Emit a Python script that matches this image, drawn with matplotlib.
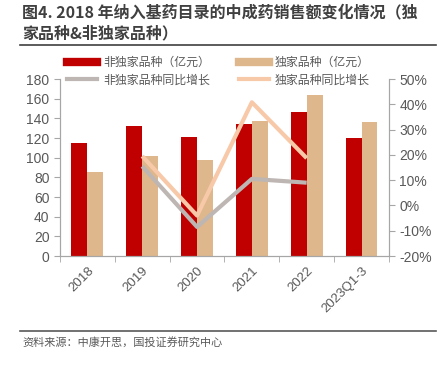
import numpy as np
import matplotlib
matplotlib.use('Agg')
import matplotlib.pyplot as plt
from matplotlib.lines import Line2D

plt.rcParams['font.family'] = ['Noto Sans CJK SC', 'DejaVu Sans']

years = ["2018", "2019", "2020", "2021", "2022", "2023Q1-3"]
non_excl = [115, 132.5, 121, 134, 146.5, 120]
excl = [85, 102, 97.7, 137.6, 163.5, 136]
non_excl_yoy = [np.nan, 15.5, -8.5, 10.5, 9.0, np.nan]
excl_yoy = [np.nan, 19.5, -4.0, 40.8, 18.7, np.nan]

red = "#C00000"
tan = "#DEB78C"
grey = "#BDB6B3"
peach = "#F8C9A8"
axc = "#A6A6A6"
txt = "#595959"

fig = plt.figure(figsize=(4.46, 3.68), dpi=100)
ax = fig.add_axes([0.1345, 0.3043, 0.7375, 0.481])
ax2 = ax.twinx()

x = np.arange(len(years))
w = 0.29
ax.bar(x - w / 2, non_excl, w, color=red, zorder=2)
ax.bar(x + w / 2, excl, w, color=tan, zorder=2)

ax2.plot(x, non_excl_yoy, color=grey, lw=3, solid_capstyle='butt')
ax2.plot(x, excl_yoy, color=peach, lw=3, solid_capstyle='butt')

ax.set_xlim(-0.5, len(years) - 0.5)
ax.set_ylim(0, 180)
ax.set_yticks(range(0, 181, 20))
ax2.set_ylim(-20, 50)
ax2.set_yticks(range(-20, 51, 10))
ax2.set_yticklabels([f"{v}%" for v in range(-20, 51, 10)])

ax.set_xticks(x)
ax.set_xticklabels(years, rotation=45, ha='right', rotation_mode='anchor')
ax.set_xticks(np.arange(-0.5, len(years), 1), minor=True)
ax.tick_params(axis='x', which='major', length=0, pad=6)
ax.tick_params(axis='x', which='minor', length=4, color=axc, direction='out')

for a in (ax, ax2):
    a.spines['top'].set_visible(False)
    for s in ('left', 'right', 'bottom'):
        a.spines[s].set_color(axc)
        a.spines[s].set_linewidth(0.8)
    a.tick_params(axis='y', colors=txt, labelsize=10, length=4, width=0.8)
    a.tick_params(axis='y', color=axc)
ax.tick_params(axis='x', labelcolor=txt, labelsize=9.5)
for t in ax.get_yticklabels() + ax2.get_yticklabels() + ax.get_xticklabels():
    t.set_family(['Liberation Sans', 'DejaVu Sans'])

handles = [
    Line2D([], [], color=red, lw=6),
    Line2D([], [], color=grey, lw=3),
    Line2D([], [], color=tan, lw=6),
    Line2D([], [], color=peach, lw=3),
]
labels = ["非独家品种（亿元）", "非独家品种同比增长", "独家品种（亿元）", "独家品种同比增长"]
fig.legend(handles, labels, ncol=2, loc='upper left', bbox_to_anchor=(0.135, 0.868),
           frameon=False, fontsize=8.6, labelcolor=txt, handlelength=2.5,
           columnspacing=2.4, labelspacing=0.4, handletextpad=0.5,
           borderaxespad=0.2)

fig.text(0.05, 0.965, "图4. 2018 年纳入基药目录的中成药销售额变化情况（独",
         fontsize=11.5, weight='bold', color="#404040", va='center')
fig.text(0.05, 0.91, "家品种&非独家品种）",
         fontsize=11.5, weight='bold', color="#404040", va='center')
fig.add_artist(Line2D([0.045, 0.978], [0.878, 0.878], color="#404040", lw=1.2))
fig.add_artist(Line2D([0.045, 0.978], [0.1, 0.1], color="#595959", lw=1.2))
fig.text(0.05, 0.07, "资料来源：中康开思，国投证券研究中心", fontsize=8,
         color="#595959", style='italic', va='center')

fig.savefig("out.png", dpi=100)
